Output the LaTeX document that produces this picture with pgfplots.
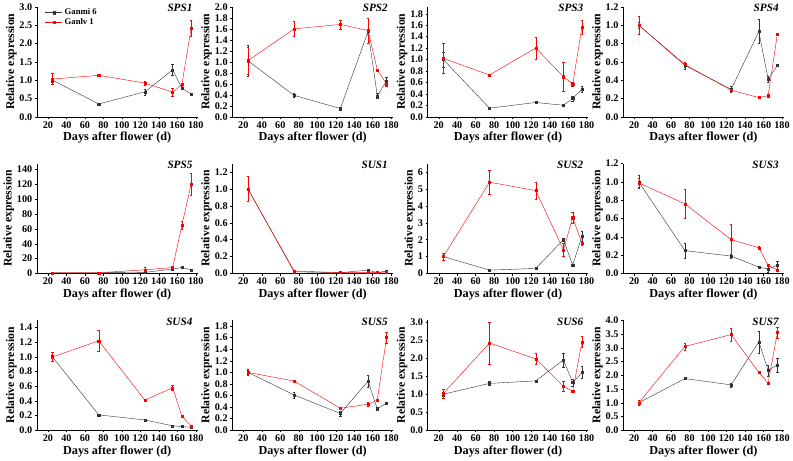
\documentclass[border=0pt]{standalone}
\usepackage{fontspec}
\setmainfont{Liberation Serif}
\usepackage{pgfplots}
\pgfplotsset{compat=1.18}
\usepgfplotslibrary{groupplots}
\begin{document}
\begin{tikzpicture}
\pgfplotsset{
  gm/.style={black!80, thin, mark=square*, mark size=1pt, mark options={solid},
    error bars/.cd, y dir=both, y explicit, error mark options={rotate=90, mark size=1.2pt}},
  gl/.style={red, thin, mark=square*, mark size=1pt, mark options={solid},
    error bars/.cd, y dir=both, y explicit, error mark options={rotate=90, mark size=1.2pt}},
  dec1/.style={yticklabel style={/pgf/number format/.cd, fixed, fixed zerofill, precision=1}},
  dec0/.style={yticklabel style={/pgf/number format/.cd, fixed, precision=0}},
}
\begin{groupplot}[
  group style={group size=4 by 3, horizontal sep=34pt, vertical sep=46pt},
  scale only axis, width=158pt, height=108pt,
  xmin=8, xmax=182, xtick={20,40,...,180},
  ymin=0,
  axis x line*=bottom, axis y line*=left,
  tick align=outside, tick style={black, thin}, major tick length=2pt,
  xlabel={Days after flower (d)}, ylabel={Relative expression},
  xlabel style={font=\fontsize{12}{13}\selectfont\bfseries, yshift=3pt},
  ylabel style={font=\fontsize{11.5}{12}\selectfont\bfseries, yshift=-4pt},
  ticklabel style={font=\fontsize{10}{11}\selectfont\bfseries},
  xticklabel style={yshift=1pt},
  yticklabel style={xshift=1pt},
  /pgf/number format/assume math mode=true,
  title style={at={(0.99,1)}, anchor=north east, font=\fontsize{11}{12}\selectfont\bfseries\itshape},
  dec1,
]
% SPS1
\nextgroupplot[title={SPS1}, ymax=3.0, ytick={0,0.5,...,3.0},
  legend style={draw=none, fill=none, at={(0.03,1.02)}, anchor=north west,
    font=\fontsize{8.5}{9}\selectfont\bfseries, row sep=-2pt},
  legend cell align=left]
\addplot+[gm] coordinates {(25,1.0)+-(0,0.05) (75,0.35)+-(0,0.02) (125,0.68)+-(0,0.08) (155,1.28)+-(0,0.15) (165,0.78)+-(0,0.03) (175,0.62)+-(0,0.03)};
\addplot+[gl] coordinates {(25,1.03)+-(0,0.15) (75,1.13)+-(0,0.03) (125,0.92)+-(0,0.05) (155,0.67)+-(0,0.1) (165,0.88)+-(0,0.04) (175,2.42)+-(0,0.22)};
\legend{Ganmi 6, Ganlv 1}
% SPS2
\nextgroupplot[title={SPS2}, ymax=2.0, ytick={0,0.2,...,2.01}]
\addplot+[gm] coordinates {(25,1.02)+-(0,0.28) (75,0.39)+-(0,0.03) (125,0.15)+-(0,0.03) (155,1.55)+-(0,0.05) (165,0.38)+-(0,0.05) (175,0.65)+-(0,0.07)};
\addplot+[gl] coordinates {(25,1.02)+-(0,0.25) (75,1.6)+-(0,0.13) (125,1.68)+-(0,0.08) (155,1.57)+-(0,0.23) (165,0.85)+-(0,0.02) (175,0.6)+-(0,0.05)};
% SPS3
\nextgroupplot[title={SPS3}, ymax=1.92, ytick={0,0.2,...,1.81}]
\addplot+[gm] coordinates {(25,1.0)+-(0,0.13) (75,0.15)+-(0,0.01) (125,0.25)+-(0,0.02) (155,0.2)+-(0,0.01) (165,0.32)+-(0,0.04) (175,0.48)+-(0,0.05)};
\addplot+[gl] coordinates {(25,1.02)+-(0,0.26) (75,0.73)+-(0,0.02) (125,1.2)+-(0,0.19) (155,0.7)+-(0,0.25) (165,0.57)+-(0,0.03) (175,1.57)+-(0,0.12)};
% SPS4
\nextgroupplot[title={SPS4}, ymax=1.2, ytick={0,0.2,...,1.21}]
\addplot+[gm] coordinates {(25,1.0)+-(0,0.03) (75,0.56)+-(0,0.04) (125,0.3)+-(0,0.03) (155,0.93)+-(0,0.13) (165,0.41)+-(0,0.03) (175,0.56)+-(0,0.01)};
\addplot+[gl] coordinates {(25,1.0)+-(0,0.1) (75,0.57)+-(0,0.03) (125,0.29)+-(0,0.01) (155,0.21)+-(0,0.01) (165,0.23)+-(0,0.01) (175,0.9)+-(0,0.01)};
% SPS5
\nextgroupplot[title={SPS5}, ymax=148, ytick={0,20,...,140}, dec0]
\addplot+[gm] coordinates {(25,1)+-(0,0.3) (75,1)+-(0,0.3) (125,1.5)+-(0,0.5) (155,6)+-(0,0.5) (165,8)+-(0,0.5) (175,5)+-(0,0.5)};
\addplot+[gl] coordinates {(25,1)+-(0,0.3) (75,1)+-(0,0.3) (125,5)+-(0,3) (155,8)+-(0,0.5) (165,65)+-(0,5) (175,120)+-(0,15)};
% SUS1
\nextgroupplot[title={SUS1}, ymax=1.3, ytick={0,0.2,...,1.21}]
\addplot+[gm] coordinates {(25,1.0)+-(0,0.15) (75,0.02)+-(0,0.005) (125,0.01)+-(0,0.005) (155,0.04)+-(0,0.01) (165,0.01)+-(0,0.005) (175,0.03)+-(0,0.01)};
\addplot+[gl] coordinates {(25,1.0)+-(0,0.15) (75,0.03)+-(0,0.005) (125,0.01)+-(0,0.005) (155,0.01)+-(0,0.005) (165,0.01)+-(0,0.005) (175,0.02)+-(0,0.01)};
% SUS2
\nextgroupplot[title={SUS2}, ymax=6.5, ytick={0,1,...,6}, dec0]
\addplot+[gm] coordinates {(25,1.0)+-(0,0.2) (75,0.2)+-(0,0.03) (125,0.3)+-(0,0.03) (155,2.0)+-(0,0.1) (165,0.5)+-(0,0.05) (175,2.2)+-(0,0.3)};
\addplot+[gl] coordinates {(25,1.0)+-(0,0.2) (75,5.4)+-(0,0.7) (125,4.9)+-(0,0.5) (155,1.4)+-(0,0.4) (165,3.3)+-(0,0.35) (175,1.8)+-(0,0.1)};
% SUS3
\nextgroupplot[title={SUS3}, ymax=1.2, ytick={0,0.2,...,1.21}]
\addplot+[gm] coordinates {(25,1.0)+-(0,0.07) (75,0.25)+-(0,0.08) (125,0.19)+-(0,0.02) (155,0.07)+-(0,0.01) (165,0.05)+-(0,0.04) (175,0.09)+-(0,0.04)};
\addplot+[gl] coordinates {(25,0.99)+-(0,0.05) (75,0.76)+-(0,0.16) (125,0.37)+-(0,0.17) (155,0.28)+-(0,0.02) (165,0.09)+-(0,0.01) (175,0.04)+-(0,0.01)};
% SUS4
\nextgroupplot[title={SUS4}, ymax=1.5, ytick={0,0.2,...,1.41}]
\addplot+[gm] coordinates {(25,1.0)+-(0,0.02) (75,0.21)+-(0,0.01) (125,0.14)+-(0,0.01) (155,0.06)+-(0,0.005) (165,0.05)+-(0,0.005) (175,0.04)+-(0,0.005)};
\addplot+[gl] coordinates {(25,1.0)+-(0,0.06) (75,1.22)+-(0,0.14) (125,0.41)+-(0,0.01) (155,0.58)+-(0,0.03) (165,0.19)+-(0,0.01) (175,0.06)+-(0,0.01)};
% SUS5
\nextgroupplot[title={SUS5}, ymax=1.9, ytick={0,0.2,...,1.81}]
\addplot+[gm] coordinates {(25,1.0)+-(0,0.04) (75,0.61)+-(0,0.05) (125,0.29)+-(0,0.04) (155,0.85)+-(0,0.1) (165,0.37)+-(0,0.02) (175,0.47)+-(0,0.01)};
\addplot+[gl] coordinates {(25,1.0)+-(0,0.05) (75,0.85)+-(0,0.01) (125,0.38)+-(0,0.01) (155,0.45)+-(0,0.04) (165,0.52)+-(0,0.02) (175,1.6)+-(0,0.1)};
% SUS6
\nextgroupplot[title={SUS6}, ymax=3.05, ytick={0,0.5,...,3.01}]
\addplot+[gm] coordinates {(25,1.0)+-(0,0.05) (75,1.3)+-(0,0.05) (125,1.37)+-(0,0.02) (155,1.95)+-(0,0.2) (165,1.32)+-(0,0.1) (175,1.6)+-(0,0.17)};
\addplot+[gl] coordinates {(25,1.02)+-(0,0.12) (75,2.42)+-(0,0.58) (125,1.98)+-(0,0.15) (155,1.22)+-(0,0.15) (165,1.08)+-(0,0.02) (175,2.45)+-(0,0.15)};
% SUS7
\nextgroupplot[title={SUS7}, ymax=4.0, ytick={0,0.5,...,4.01}]
\addplot+[gm] coordinates {(25,1.0)+-(0,0.03) (75,1.88)+-(0,0.03) (125,1.65)+-(0,0.07) (155,3.22)+-(0,0.4) (165,2.18)+-(0,0.2) (175,2.38)+-(0,0.25)};
\addplot+[gl] coordinates {(25,1.0)+-(0,0.08) (75,3.05)+-(0,0.12) (125,3.48)+-(0,0.25) (155,2.1)+-(0,0.02) (165,1.72)+-(0,0.03) (175,3.55)+-(0,0.2)};
\end{groupplot}
\end{tikzpicture}
\end{document}
